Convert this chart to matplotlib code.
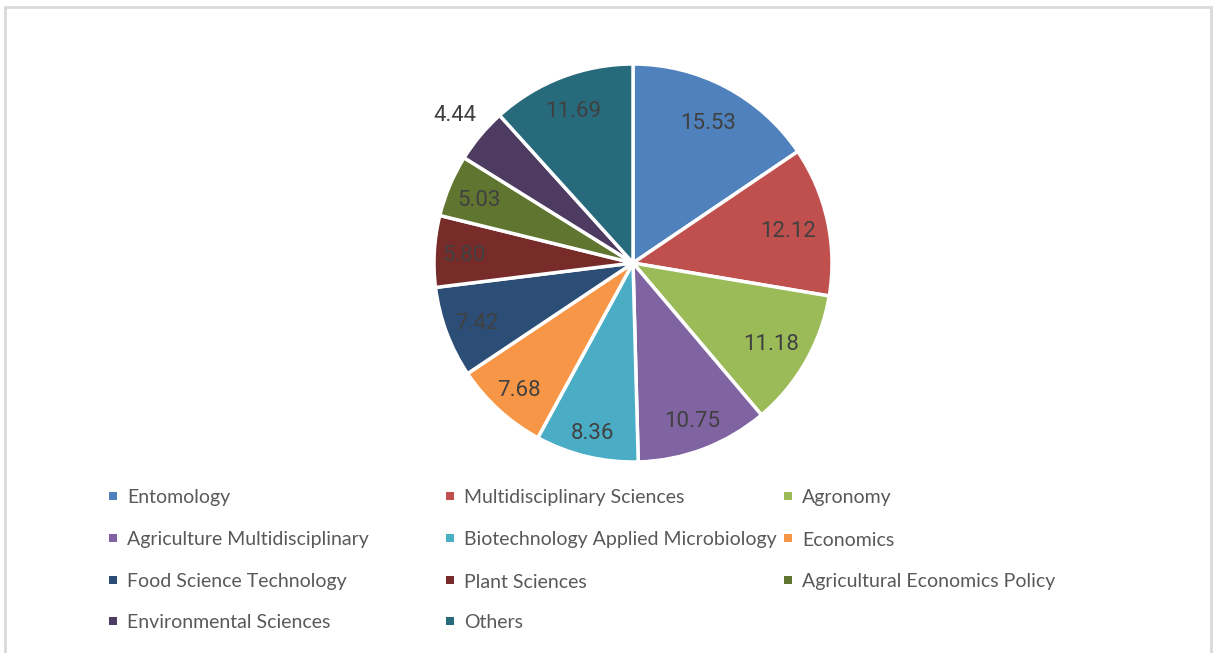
import numpy as np
import matplotlib.pyplot as plt
from matplotlib.patches import Rectangle

# 분야별 비율 (%)
categories = ['Entomology', 'Multidisciplinary Sciences', 'Agronomy',
              'Agriculture Multidisciplinary', 'Biotechnology Applied Microbiology', 'Economics',
              'Food Science Technology', 'Plant Sciences', 'Agricultural Economics Policy',
              'Environmental Sciences', 'Others']
values = [15.53, 12.12, 11.18, 10.75, 8.36, 7.68, 7.42, 5.80, 5.03, 4.44, 11.69]
colors = ['#4F81BD', '#C0504D', '#9BBB59', '#8064A2', '#4BACC6', '#F79646',
          '#2C4D75', '#772C2A', '#5F7530', '#4D3B62', '#276A7C']
# 라벨 위치 (반지름 비율)
label_dist = [0.81, 0.80, 0.80, 0.84, 0.87, 0.85, 0.84, 0.85, 0.84, 1.17, 0.83]

W, H = 1213, 653
fig = plt.figure(figsize=(W / 100, H / 100), dpi=100)


def px(x, y):
    return x / W, 1 - y / H


# 바깥 테두리
fig.add_artist(Rectangle(px(5, 700), 1206 / W, (700 - 7) / H, transform=fig.transFigure,
                         fill=False, edgecolor='#d9d9d9', linewidth=2))

# 파이 차트
cx, cy, r = 633, 263, 199
lim = 1.3
side = 2 * r * lim
ax = fig.add_axes([(cx - side / 2) / W, 1 - (cy + side / 2) / H, side / W, side / H])
wedges, texts = ax.pie(values, colors=colors, startangle=90, counterclock=False,
                       labels=[f'{v:.2f}' for v in values],
                       wedgeprops=dict(edgecolor='white', linewidth=2.5),
                       textprops=dict(fontsize=16, color='#404040', family='Roboto',
                                      ha='center', va='center'))
ax.set_xlim(-lim, lim)
ax.set_ylim(-lim, lim)
ax.set_aspect('equal')

# 라벨 위치 조정 (조각 가운데 각도 기준)
for w, t, d in zip(wedges, texts, label_dist):
    ang = np.deg2rad((w.theta1 + w.theta2) / 2)
    t.set_position((d * np.cos(ang), d * np.sin(ang) - 0.012))

# 범례 (3열, 행 우선)
col_x = [113, 450, 788]
row_y = [496, 538, 580, 621]
for i, (name, c) in enumerate(zip(categories, colors)):
    x = col_x[i % 3]
    y = row_y[i // 3]
    fig.add_artist(Rectangle(px(x - 4, y + 4), 8 / W, 8 / H, transform=fig.transFigure,
                             facecolor=c, edgecolor='none'))
    fx, fy = px(x + 14, y + 2)
    fig.text(fx, fy, name, fontsize=14, color='#595959', family='Lato',
             ha='left', va='center')

plt.savefig('out.png', dpi=100)
